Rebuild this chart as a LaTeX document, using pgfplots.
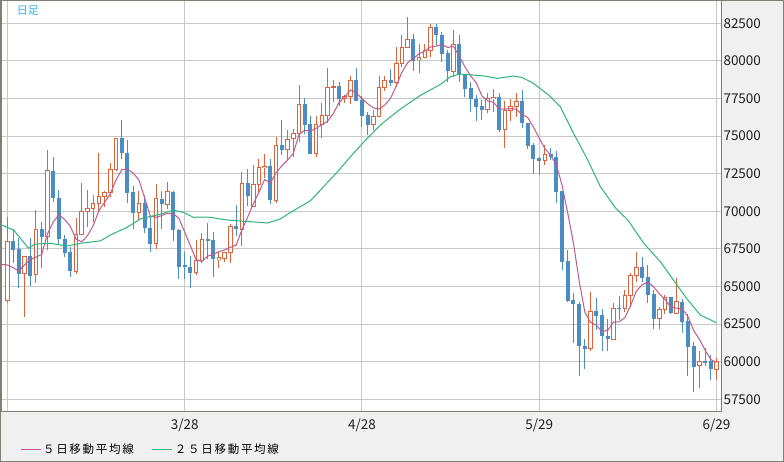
\documentclass[border=0pt]{standalone}
\usepackage{fontspec}
\setmainfont{Noto Sans CJK JP}
\newfontfamily\jpleg{Noto Sans CJK JP}[LetterSpace=15]
\usepackage{pgfplots}
\usepackage{pgfplotstable}
\pgfplotsset{compat=1.18}
\pgfdeclarelayer{bg}
\pgfsetlayers{bg,main}
\definecolor{upC}{HTML}{DC643C}
\definecolor{downC}{HTML}{4B8CC3}
\definecolor{maFiveC}{HTML}{BF5A8C}
\definecolor{maTwentyFiveC}{HTML}{2DB57A}
\definecolor{gridC}{HTML}{C8C8C8}
\definecolor{panelC}{HTML}{F0F0F0}
\definecolor{frameC}{HTML}{7F7F78}
\definecolor{labC}{HTML}{38B4EE}

\pgfplotstableread{
i O H L C
0 64050 69650 63900 68000
1 68000 68850 66550 67450
2 67500 68200 64900 65850
3 65850 67000 63000 66980
4 67000 68200 65000 65700
5 65800 70100 65250 68800
6 68800 69300 66200 68300
7 68300 74050 67400 72700
8 72700 73600 70650 70900
9 70900 71400 67850 68150
10 68150 68400 66950 67250
11 67300 67600 65650 66000
12 66000 69550 65850 68450
13 68450 71850 68400 70000
14 70000 71400 68950 70200
15 70200 71100 69300 70550
16 70550 73900 69950 71000
17 71000 71350 70300 71250
18 71250 73200 70950 72800
19 72800 74900 72700 74850
20 74850 76050 73450 73900
21 73900 74750 70550 71250
22 71250 71700 68800 69900
23 69900 71350 69400 70550
24 70550 71100 68550 68900
25 68900 69600 67300 67800
26 67850 71800 67500 70850
27 70850 71350 68850 70480
28 70480 71950 70150 71300
29 71300 71350 68050 68750
30 68750 68850 65500 66300
31 66400 67300 65500 66300
32 66300 67050 64900 65900
33 65900 68100 65750 66700
34 66700 68550 66550 68150
35 68150 69200 66850 68050
36 68100 68650 65600 66800
37 66820 67300 66200 66900
38 66880 67300 66650 67250
39 67250 69150 66550 69000
40 69000 70400 68350 68800
41 68800 72600 67700 71850
42 71850 72800 70350 71050
43 70350 73050 70350 71750
44 71750 73450 71300 72900
45 72900 73800 72200 73000
46 73000 73450 70500 70750
47 70750 74950 70550 74400
48 74400 76100 73750 74100
49 74100 75400 73400 74800
50 74850 75500 73600 75180
51 75180 78400 74600 77100
52 77130 77500 75140 75750
53 75800 76330 73800 73800
54 73850 76330 73630 75780
55 75780 77180 74850 76380
56 76360 79500 75850 78240
57 78240 78730 77290 78300
58 78330 78620 77000 77470
59 77510 77730 77180 77640
60 77620 79020 77130 78680
61 78730 79500 77350 77350
62 77400 77660 75620 76350
63 76400 76620 75070 75740
64 75740 76730 75400 76290
65 76290 79020 76290 78240
66 78220 79020 78000 78710
67 78710 79440 78350 78550
68 78550 80900 78280 79840
69 79840 81720 79610 80900
70 80900 82900 80850 81430
71 81430 81790 79350 80010
72 80060 81100 79170 80240
73 80240 81120 80200 80700
74 80700 82450 80280 82230
75 82250 82450 81050 81750
76 81750 81900 79900 80480
77 80500 80700 78600 79300
78 79300 82050 78950 81100
79 81100 81700 78600 79050
80 79050 79100 77600 78150
81 78200 78620 76620 77440
82 77450 77750 76000 76950
83 77000 77400 76070 76730
84 76780 77840 76510 77470
85 77490 78100 76620 77580
86 77600 77890 75290 75400
87 75450 77330 74230 76730
88 76730 77440 76020 76950
89 76950 77840 76290 77290
90 77330 78060 75510 75850
91 75890 75900 74120 74360
92 74400 74560 72450 73500
93 73520 73630 72410 73360
94 73360 74400 73070 73790
95 73810 74230 73400 73590
96 73610 74030 70530 71300
97 71350 71350 66100 66650
98 66690 67420 63990 64030
99 64100 64600 61260 63810
100 63830 63990 59070 61040
101 61040 61480 59490 60860
102 60860 64650 60730 63370
103 63370 64210 62100 63060
104 63100 63500 60730 61680
105 61700 62830 60730 61480
106 61480 63880 61480 63540
107 63560 64360 62800 63530
108 63540 64760 63320 64430
109 64430 65920 63650 65740
110 65740 67290 65320 66290
111 66290 66980 65300 65580
112 65630 66430 63880 64450
113 64480 64760 62190 62860
114 62860 63660 62190 63480
115 63480 64430 63170 64280
116 64280 64320 63170 63210
117 63210 65580 63210 63970
118 63970 64140 61880 62660
119 62680 63170 59040 60990
120 61040 61330 58000 59660
121 59750 60710 58270 60020
122 60020 60930 59730 59930
123 60020 60440 58780 59490
124 59490 60260 58780 60040
}\candles

\pgfplotstableread{
i v
-1.03 66470
0 66430
1 66260
2 66030
3 66430
4 66796
5 66956
6 67126
7 68496
8 69280
9 69770
10 69460
11 69000
12 68150
13 67970
14 68380
15 69040
16 70040
17 70600
18 71160
19 72090
20 72760
21 72810
22 72540
23 72090
24 70900
25 69680
26 69600
27 69716
28 69866
29 69836
30 69536
31 68626
32 67710
33 66790
34 66670
35 67020
36 67120
37 67320
38 67430
39 67600
40 67750
41 68760
42 69590
43 70490
44 71270
45 72110
46 71890
47 72560
48 73030
49 73410
50 73846
51 75116
52 75386
53 75326
54 75522
55 75762
56 75990
57 76500
58 77234
59 77606
60 78066
61 77888
62 77498
63 77152
64 76882
65 76794
66 77066
67 77506
68 78326
69 79248
70 79886
71 80146
72 80484
73 80656
74 80922
75 80986
76 81080
77 80892
78 80972
79 80336
80 79616
81 79008
82 78538
83 77664
84 77348
85 77234
86 76826
87 76782
88 76826
89 76790
90 76444
91 76236
92 75590
93 74872
94 74172
95 73718
96 73106
97 71736
98 69870
99 67874
100 65364
101 63276
102 62620
103 62426
104 62000
105 62088
106 62624
107 62656
108 62930
109 63742
110 64704
111 65112
112 65296
113 64980
114 64528
115 64126
116 63652
117 63558
118 63518
119 63020
120 62096
121 61498
122 60786
123 60152
124 59946
}\maFive

\pgfplotstableread{
i v
-1.03 69090
1.1 68750
3.7 67540
4.9 67820
7.5 67870
10.4 67690
12.8 67870
16.3 68040
18 68420
20.9 68930
23.3 69500
26.8 69816
29 70080
30.8 69926
32.5 69600
35 69620
38.5 69418
42.5 69308
45.5 69220
47.7 69485
49.5 69926
53 70700
57.9 72700
60 73630
62.3 74600
65.2 75735
68.7 76790
72.2 77700
75.7 78430
77.5 78950
79.2 79130
83.3 79000
85.7 78840
88.5 78990
90 78900
92 78510
95 77620
96.7 76950
99 75185
101.5 73410
103.7 71634
106.4 70200
108.5 69420
111.3 67870
114.2 66646
116.5 65420
119 64100
121.2 63100
124 62590
}\maTwentyFive

\begin{document}
\begin{tikzpicture}[x=1pt,y=1pt]
\begin{axis}[
  name=main, scale only axis,
  width=719.5pt, height=411pt,
  xmin=-1.03, xmax=124.8, ymin=56655, ymax=83983,
  axis background/.style={fill=white},
  axis line style={frameC, line width=1pt},
  xtick={0,31,62,93,124}, xticklabels={,3/28,4/28,5/29,6/29},
  ytick={57500,60000,...,82500},
  scaled y ticks=false,
  yticklabel pos=right,
  major tick length=0pt,
  grid=major, major grid style={gridC, line width=1pt},
  tick label style={font=\fontsize{13.5}{14}\selectfont, text=black!88},
  yticklabel style={anchor=west, inner sep=0pt, xshift=2.3pt},
  xticklabel style={anchor=base, inner sep=0pt, yshift=-18pt},
  legend style={at={(axis description cs:0.0255,-0.091)}, anchor=west,
    draw=none, fill=none, inner sep=0pt, legend columns=2,
    font=\jpleg\fontsize{11.5}{12}\selectfont,
    /tikz/every even column/.append style={column sep=16pt}},
  legend image code/.code={\draw[#1, line width=1pt] (0pt,0pt) -- (20pt,0pt);},
  /pgf/number format/1000 sep={},
  /pgf/number format/fixed,
  /pgf/number format/assume math mode=true,
]
% up candles: wicks
\addplot[draw=none, forget plot,
  restrict expr to domain={\thisrow{C}-\thisrow{O}}{0:1000000},
  error bars/.cd, y dir=both, y explicit, error mark=none,
  error bar style={draw=upC, line width=1pt, solid}]
  table[x=i, y expr={(\thisrow{H}+\thisrow{L})/2}, y error expr={(\thisrow{H}-\thisrow{L})/2}] {\candles};
% down candles: wicks
\addplot[draw=none, forget plot,
  restrict expr to domain={\thisrow{C}-\thisrow{O}}{-1000000:-0.001},
  error bars/.cd, y dir=both, y explicit, error mark=none,
  error bar style={draw=downC, line width=1pt, solid}]
  table[x=i, y expr={(\thisrow{H}+\thisrow{L})/2}, y error expr={(\thisrow{H}-\thisrow{L})/2}] {\candles};
% down candles: filled bodies
\addplot[draw=none, forget plot,
  restrict expr to domain={\thisrow{C}-\thisrow{O}}{-1000000:-0.001},
  error bars/.cd, y dir=both, y explicit, error mark=none,
  error bar style={draw=downC, line width=4pt, solid}]
  table[x=i, y expr={(\thisrow{O}+\thisrow{C})/2}, y error expr={max(abs(\thisrow{O}-\thisrow{C})/2,33)}] {\candles};
% up candles: outline
\addplot[draw=none, forget plot,
  restrict expr to domain={\thisrow{C}-\thisrow{O}}{0:1000000},
  error bars/.cd, y dir=both, y explicit, error mark=none,
  error bar style={draw=upC, line width=4.6pt, solid}]
  table[x=i, y expr={(\thisrow{O}+\thisrow{C})/2}, y error expr={(\thisrow{C}-\thisrow{O})/2+33}] {\candles};
% up candles: hollow inside
\addplot[draw=none, forget plot,
  restrict expr to domain={\thisrow{C}-\thisrow{O}}{0:1000000},
  error bars/.cd, y dir=both, y explicit, error mark=none,
  error bar style={draw=white, line width=2.6pt, solid}]
  table[x=i, y expr={(\thisrow{O}+\thisrow{C})/2}, y error expr={max((\thisrow{C}-\thisrow{O})/2-33,0)}] {\candles};
% moving averages
\addplot[draw=maFiveC, line width=1pt] table[x=i, y=v] {\maFive};
\addlegendentry{５日移動平均線}
\addplot[draw=maTwentyFiveC, line width=1pt] table[x=i, y=v] {\maTwentyFive};
\addlegendentry{２５日移動平均線}
\node[anchor=base west, inner sep=0pt, text=labC, font=\fontsize{11}{12}\selectfont] at (rel axis cs:0.021,0.966) {日足};
\end{axis}
\begin{scope}[shift={(main.south west)}]
\begin{pgfonlayer}{bg}
\fill[panelC] (-1.5,-50) rectangle (782.5,412);
\end{pgfonlayer}
\draw[frameC, line width=1pt] (-1,-49.5) rectangle (782,411.5);
\pgfresetboundingbox
\path[use as bounding box] (-1.5,-50) rectangle (782.5,412);
\end{scope}
\end{tikzpicture}
\end{document}
